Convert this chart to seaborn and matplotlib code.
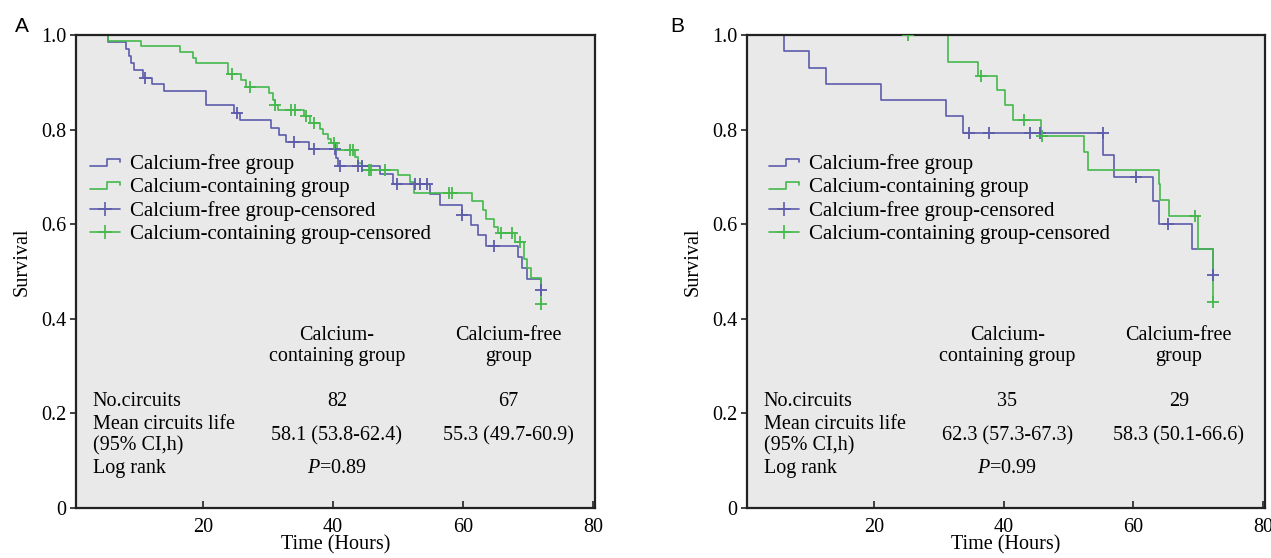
import numpy as np
import pandas as pd
import matplotlib
matplotlib.use("Agg")
import matplotlib.pyplot as plt
from matplotlib.lines import Line2D
from matplotlib.legend_handler import HandlerBase
import seaborn as sns

# ---------------- data ----------------
# Panel A
a_free_t = [0, 5.4, 8.2, 8.6, 8.9, 9.3, 10.8, 12.2, 14.0, 20.5, 24.8, 25.7, 30.5, 31.7, 32.8,
            36.3, 40.5, 40.7, 47.2, 49.2, 54.9, 56.4, 59.8, 61.2, 62.3, 63.5, 68.5, 69.1, 69.9, 72.0]
a_free_s = [1.0, 0.985, 0.970, 0.955, 0.940, 0.925, 0.910, 0.896, 0.881, 0.851, 0.836, 0.821, 0.804, 0.789, 0.774,
            0.759, 0.739, 0.722, 0.707, 0.684, 0.664, 0.641, 0.620, 0.599, 0.577, 0.554, 0.530, 0.507, 0.485, 0.461]
a_free_cens_t = [11.1, 25.2, 34.0, 37.0, 40.3, 41.0, 43.9, 44.4, 49.8, 52.6, 53.4, 54.4, 59.9, 64.8, 72.0]
a_free_cens_s = [0.910, 0.836, 0.774, 0.759, 0.759, 0.722, 0.722, 0.722, 0.684, 0.684, 0.684, 0.684, 0.620, 0.554, 0.461]

a_cont_t = [0, 5.4, 10.5, 16.5, 18.4, 18.9, 23.8, 25.8, 26.6, 30.2, 30.7, 31.0, 31.5, 35.5, 36.5, 38.0,
            38.5, 39.2, 39.7, 40.6, 43.3, 43.9, 44.5, 50.0, 51.8, 52.5, 61.3, 63.1, 63.6, 64.8, 65.4,
            68.0, 69.3, 69.9, 70.4, 72.0]
a_cont_s = [1.0, 0.988, 0.976, 0.964, 0.952, 0.940, 0.918, 0.905, 0.891, 0.877, 0.863, 0.851, 0.842, 0.828, 0.814, 0.801,
            0.790, 0.781, 0.771, 0.757, 0.743, 0.729, 0.715, 0.703, 0.690, 0.665, 0.648, 0.630, 0.612, 0.595, 0.581,
            0.563, 0.527, 0.507, 0.486, 0.431]
a_cont_cens_t = [24.5, 27.2, 31.1, 33.6, 34.1, 35.9, 37.1, 40.1, 42.6, 43.0, 45.5, 45.8, 48.0, 57.8, 58.3,
                 65.8, 67.5, 68.8, 72.0]
a_cont_cens_s = [0.918, 0.891, 0.851, 0.842, 0.842, 0.828, 0.814, 0.771, 0.757, 0.757, 0.715, 0.715, 0.715, 0.665, 0.665,
                 0.581, 0.581, 0.563, 0.431]

# Panel B
b_free_t = [0, 6.2, 10.0, 12.6, 21.1, 31.2, 33.7, 55.4, 57.1, 63.0, 64.0, 69.0, 72.3]
b_free_s = [1.0, 0.966, 0.931, 0.897, 0.862, 0.828, 0.793, 0.747, 0.700, 0.650, 0.600, 0.547, 0.493]
b_free_cens_t = [34.6, 37.7, 44.0, 45.6, 55.3, 60.4, 65.4, 72.3]
b_free_cens_s = [0.793, 0.793, 0.793, 0.793, 0.793, 0.700, 0.600, 0.493]

b_cont_t = [0, 31.5, 36.0, 39.0, 40.2, 41.4, 45.7, 52.4, 53.0, 63.9, 64.1, 65.5, 69.9, 72.3]
b_cont_s = [1.0, 0.943, 0.913, 0.884, 0.853, 0.820, 0.787, 0.753, 0.715, 0.685, 0.651, 0.617, 0.547, 0.436]
b_cont_cens_t = [25.2, 36.5, 43.2, 46.0, 69.5, 72.3]
b_cont_cens_s = [1.0, 0.913, 0.820, 0.787, 0.617, 0.436]

legend_labels = ["Calcium-free group", "Calcium-containing group",
                 "Calcium-free group-censored", "Calcium-containing group-censored"]
panel_labels = ["A", "B"]
table_headers = ["Calcium-\ncontaining group", "Calcium-free\ngroup"]
a_table = {"n": ["82", "67"], "mean": ["58.1 (53.8-62.4)", "55.3 (49.7-60.9)"], "p": "0.89"}
b_table = {"n": ["35", "29"], "mean": ["62.3 (57.3-67.3)", "58.3 (50.1-66.6)"], "p": "0.99"}
x_ticks = [20, 40, 60, 80]
y_ticks = [0, 0.2, 0.4, 0.6, 0.8, 1.0]
y_ticklabels = ["0", "0.2", "0.4", "0.6", "0.8", "1.0"]

# ---------------- style ----------------
sns.set_theme(style="ticks")
plt.rcParams["font.family"] = ["Liberation Serif", "DejaVu Serif"]
plt.rcParams["mathtext.fontset"] = "custom"
plt.rcParams["mathtext.it"] = "Liberation Serif:italic"
plt.rcParams["mathtext.rm"] = "Liberation Serif"
plt.rcParams["text.color"] = "black"
plt.rcParams["axes.labelcolor"] = "black"

BLUE = "#5c5cab"
GREEN = "#45b84c"
BG = "#e9e9e9"
FS = 14.5

W, H = 1271, 558
fig = plt.figure(figsize=(W / 100, H / 100), dpi=100)


class StepHandler(HandlerBase):
    def create_artists(self, legend, orig_handle, xdescent, ydescent, width, height, fontsize, trans):
        x0, y0 = -xdescent, -ydescent
        xs = [x0, x0 + 0.55 * width, x0 + 0.55 * width, x0 + width, x0 + width]
        ys = [y0 + 0.25 * height, y0 + 0.25 * height, y0 + 0.72 * height, y0 + 0.72 * height, y0 + 0.5 * height]
        ln = Line2D(xs, ys, color=orig_handle.get_color(), lw=orig_handle.get_linewidth(), transform=trans)
        return [ln]


def draw_panel(ax, free_t, free_s, fc_t, fc_s, cont_t, cont_s, cc_t, cc_s, table, leg_x):
    ax.set_facecolor(BG)
    df_free = pd.DataFrame({"t": free_t, "s": free_s})
    df_cont = pd.DataFrame({"t": cont_t, "s": cont_s})
    sns.lineplot(data=df_free, x="t", y="s", drawstyle="steps-post", estimator=None, sort=False,
                 color=BLUE, lw=1.2, ax=ax, legend=False)
    sns.lineplot(data=df_cont, x="t", y="s", drawstyle="steps-post", estimator=None, sort=False,
                 color=GREEN, lw=1.2, ax=ax, legend=False)
    sns.scatterplot(x=fc_t, y=fc_s, marker="+", s=80, color=BLUE, linewidth=1.3, ax=ax, legend=False, zorder=4)
    sns.scatterplot(x=cc_t, y=cc_s, marker="+", s=80, color=GREEN, linewidth=1.3, ax=ax, legend=False, zorder=4)

    ax.set_xlim(0.45, 80.3)
    ax.set_ylim(0, 1.0)
    ax.set_xticks(x_ticks)
    ax.set_yticks(y_ticks)
    ax.set_yticklabels(y_ticklabels)
    ax.tick_params(axis="x", direction="in", length=5, width=1.2, pad=7, labelsize=FS,
                   color="#222", labelcolor="black")
    ax.tick_params(axis="y", direction="out", length=4, width=1.2, pad=3, labelsize=FS,
                   color="#222", labelcolor="black")
    for sp in ax.spines.values():
        sp.set_visible(True)
        sp.set_color("#222")
        sp.set_linewidth(1.6)
    ax.set_xlabel("Time (Hours)", fontsize=FS)
    ax.set_ylabel("Survival", fontsize=FS)
    ax.xaxis.set_label_coords(0.5, -0.058)
    ax.yaxis.set_label_coords(-0.086, 0.52)

    h1 = Line2D([], [], color=BLUE, lw=1.2)
    h2 = Line2D([], [], color=GREEN, lw=1.2)
    h3 = Line2D([], [], color=BLUE, lw=1.2, marker="+", markersize=10, markeredgewidth=1.2)
    h4 = Line2D([], [], color=GREEN, lw=1.2, marker="+", markersize=10, markeredgewidth=1.2)
    ax.legend([h1, h2, h3, h4], legend_labels, handler_map={h1: StepHandler(), h2: StepHandler()},
              loc="center left", bbox_to_anchor=(leg_x, 0.653), frameon=False, fontsize=15,
              labelspacing=0.17, handlelength=1.45, handletextpad=0.45, borderpad=0, borderaxespad=0,
              numpoints=1)

    c1, c2, lx = 40.6, 67.0, 3.0
    ax.text(c1, 0.342, table_headers[0], ha="center", va="center", fontsize=FS, linespacing=1.17)
    ax.text(c2, 0.342, table_headers[1], ha="center", va="center", fontsize=FS, linespacing=1.17)
    ax.text(lx, 0.225, "No.circuits", ha="left", va="center", fontsize=FS)
    ax.text(c1, 0.225, table["n"][0], ha="center", va="center", fontsize=FS)
    ax.text(c2, 0.225, table["n"][1], ha="center", va="center", fontsize=FS)
    ax.text(lx, 0.154, "Mean circuits life\n(95% CI,h)", ha="left", va="center", fontsize=FS, linespacing=1.17)
    ax.text(c1, 0.153, table["mean"][0], ha="center", va="center", fontsize=FS)
    ax.text(c2, 0.153, table["mean"][1], ha="center", va="center", fontsize=FS)
    ax.text(lx, 0.084, "Log rank", ha="left", va="center", fontsize=FS)
    ax.text(c1, 0.084, "$P$=" + table["p"], ha="center", va="center", fontsize=FS)


axA = fig.add_axes([76 / W, 50 / H, 519 / W, 473 / H])
axB = fig.add_axes([747 / W, 50 / H, 518 / W, 473 / H])

draw_panel(axA, a_free_t, a_free_s, a_free_cens_t, a_free_cens_s,
           a_cont_t, a_cont_s, a_cont_cens_t, a_cont_cens_s, a_table, (90 - 76) / 519)
draw_panel(axB, b_free_t, b_free_s, b_free_cens_t, b_free_cens_s,
           b_cont_t, b_cont_s, b_cont_cens_t, b_cont_cens_s, b_table, (769 - 747) / 518)

fig.text(15 / W, 1 - 32 / H, panel_labels[0], fontsize=15, family=["Liberation Sans", "DejaVu Sans"],
         va="baseline", color="black")
fig.text(670 / W, 1 - 32 / H, panel_labels[1], fontsize=15, family=["Liberation Sans", "DejaVu Sans"],
         va="baseline", color="black")

fig.savefig("out.png", dpi=100, facecolor="white")
